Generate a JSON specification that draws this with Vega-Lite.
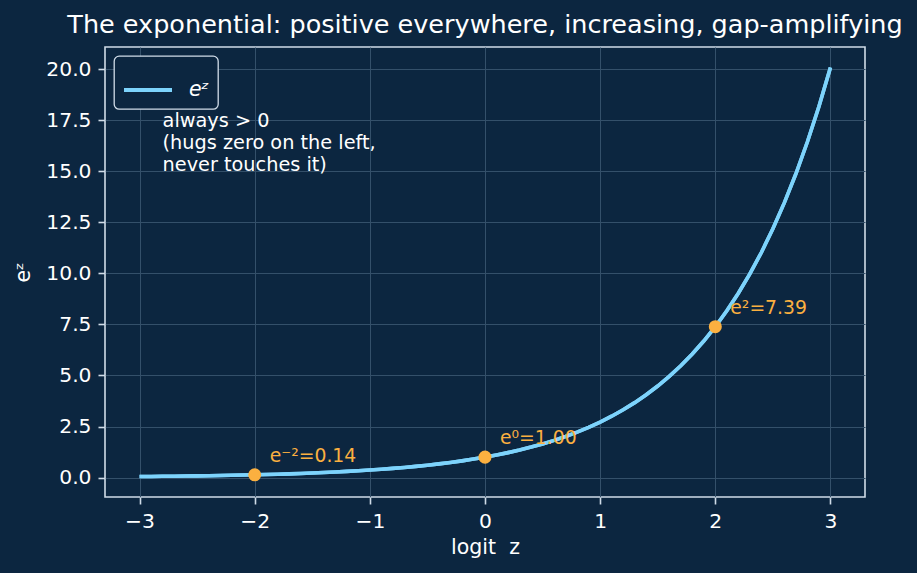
{
  "$schema": "https://vega.github.io/schema/vega-lite/v6.json",
  "width": 760,
  "height": 450,
  "autosize": "none",
  "padding": {"left": 105, "top": 47, "right": 52, "bottom": 76},
  "background": "#0c2640",
  "title": {"text": "The exponential: positive everywhere, increasing, gap-amplifying", "color": "#ffffff", "font": "DejaVu Sans", "fontSize": 25.5, "fontWeight": "normal", "anchor": "middle", "offset": 9},
  "config": {
    "view": {"stroke": "#d0dce8", "strokeWidth": 1.6, "fill": "#0c2640"},
    "axis": {"grid": true, "labelFont": "DejaVu Sans", "labelFontSize": 20.3, "labelColor": "#ffffff", "titleFont": "DejaVu Sans", "titleFontSize": 20.5, "titleFontWeight": "normal", "titleColor": "#ffffff", "domain": false, "tickColor": "#d0dce8", "tickSize": 7, "tickWidth": 1.6, "gridColor": "#34506a", "gridOpacity": 1, "gridWidth": 1, "labelPadding": 7},
    "legend": {"orient": "top-left", "offset": 9, "strokeColor": "#d0dce8", "strokeWidth": 1.3, "fillColor": "#0c2640", "cornerRadius": 5, "padding": 8, "labelFont": "DejaVu Sans", "labelFontSize": 20.5, "labelFontStyle": "italic", "labelColor": "#ffffff", "symbolType": "stroke", "symbolSize": 2304, "symbolStrokeWidth": 4, "labelOffset": 15}
  },
  "datasets": {
    "curve": [
      {"z": -3.0, "v": 0.0498}, {"z": -2.9, "v": 0.0550}, {"z": -2.8, "v": 0.0608}, {"z": -2.7, "v": 0.0672}, {"z": -2.6, "v": 0.0743},
      {"z": -2.5, "v": 0.0821}, {"z": -2.4, "v": 0.0907}, {"z": -2.3, "v": 0.1003}, {"z": -2.2, "v": 0.1108}, {"z": -2.1, "v": 0.1225},
      {"z": -2.0, "v": 0.1353}, {"z": -1.9, "v": 0.1496}, {"z": -1.8, "v": 0.1653}, {"z": -1.7, "v": 0.1827}, {"z": -1.6, "v": 0.2019},
      {"z": -1.5, "v": 0.2231}, {"z": -1.4, "v": 0.2466}, {"z": -1.3, "v": 0.2725}, {"z": -1.2, "v": 0.3012}, {"z": -1.1, "v": 0.3329},
      {"z": -1.0, "v": 0.3679}, {"z": -0.9, "v": 0.4066}, {"z": -0.8, "v": 0.4493}, {"z": -0.7, "v": 0.4966}, {"z": -0.6, "v": 0.5488},
      {"z": -0.5, "v": 0.6065}, {"z": -0.4, "v": 0.6703}, {"z": -0.3, "v": 0.7408}, {"z": -0.2, "v": 0.8187}, {"z": -0.1, "v": 0.9048},
      {"z": 0.0, "v": 1.0}, {"z": 0.1, "v": 1.1052}, {"z": 0.2, "v": 1.2214}, {"z": 0.3, "v": 1.3499}, {"z": 0.4, "v": 1.4918},
      {"z": 0.5, "v": 1.6487}, {"z": 0.6, "v": 1.8221}, {"z": 0.7, "v": 2.0138}, {"z": 0.8, "v": 2.2255}, {"z": 0.9, "v": 2.4596},
      {"z": 1.0, "v": 2.7183}, {"z": 1.1, "v": 3.0042}, {"z": 1.2, "v": 3.3201}, {"z": 1.3, "v": 3.6693}, {"z": 1.4, "v": 4.0552},
      {"z": 1.5, "v": 4.4817}, {"z": 1.6, "v": 4.9530}, {"z": 1.7, "v": 5.4739}, {"z": 1.8, "v": 6.0496}, {"z": 1.9, "v": 6.6859},
      {"z": 2.0, "v": 7.3891}, {"z": 2.1, "v": 8.1662}, {"z": 2.2, "v": 9.0250}, {"z": 2.3, "v": 9.9742}, {"z": 2.4, "v": 11.0232},
      {"z": 2.5, "v": 12.1825}, {"z": 2.6, "v": 13.4637}, {"z": 2.7, "v": 14.8797}, {"z": 2.8, "v": 16.4446}, {"z": 2.9, "v": 18.1741},
      {"z": 3.0, "v": 20.0855}
    ],
    "marks": [
      {"z": -2, "v": 0.1353, "label": "e⁻²=0.14"},
      {"z": 0, "v": 1.0, "label": "e⁰=1.00"},
      {"z": 2, "v": 7.3891, "label": "e²=7.39"}
    ],
    "note": [
      {"z": -2.8, "v": 17.9, "text": "always > 0\n(hugs zero on the left,\nnever touches it)"}
    ]
  },
  "layer": [
    {
      "data": {"name": "curve"},
      "mark": {"type": "line", "strokeWidth": 3.6, "clip": true},
      "encoding": {
        "x": {"field": "z", "type": "quantitative", "scale": {"domain": [-3.3, 3.3], "nice": false, "zero": false}, "axis": {"grid": true, "values": [-3, -2, -1, 0, 1, 2, 3], "title": "logit\u00a0\u00a0z", "titlePadding": 6, "format": "d"}},
        "y": {"field": "v", "type": "quantitative", "scale": {"domain": [-0.952, 21.087], "nice": false, "zero": false}, "axis": {"grid": true, "values": [0, 2.5, 5, 7.5, 10, 12.5, 15, 17.5, 20], "format": ".1f", "title": "eᶻ", "titlePadding": 12}},
        "color": {"datum": "eᶻ", "type": "nominal", "scale": {"range": ["#7dd3fc"]}, "legend": {"title": null}}
      }
    },
    {
      "mark": {"type": "rule", "color": "#c4cad8", "strokeWidth": 1.4, "opacity": 0.7},
      "encoding": {"y": {"datum": 0, "type": "quantitative"}}
    },
    {
      "mark": {"type": "rule", "color": "#c4cad8", "strokeWidth": 1.4, "opacity": 0.7},
      "encoding": {"x": {"datum": 0, "type": "quantitative"}}
    },
    {
      "data": {"name": "curve"},
      "mark": {"type": "line", "strokeWidth": 3.6, "clip": true, "color": "#7dd3fc"},
      "encoding": {"x": {"field": "z", "type": "quantitative"}, "y": {"field": "v", "type": "quantitative"}}
    },
    {
      "data": {"name": "marks"},
      "mark": {"type": "point", "filled": true, "size": 170, "color": "#fbb040", "opacity": 1},
      "encoding": {"x": {"field": "z", "type": "quantitative"}, "y": {"field": "v", "type": "quantitative"}}
    },
    {
      "data": {"name": "marks"},
      "mark": {"type": "text", "align": "left", "baseline": "middle", "dx": 15, "dy": -19, "font": "DejaVu Sans", "fontSize": 18.8, "color": "#fbb040"},
      "encoding": {"x": {"field": "z", "type": "quantitative"}, "y": {"field": "v", "type": "quantitative"}, "text": {"field": "label"}}
    },
    {
      "data": {"name": "note"},
      "mark": {"type": "text", "align": "left", "baseline": "top", "lineBreak": "\n", "lineHeight": 21.8, "font": "DejaVu Sans", "fontSize": 19.3, "color": "#ffffff"},
      "encoding": {"x": {"field": "z", "type": "quantitative"}, "y": {"field": "v", "type": "quantitative"}, "text": {"field": "text"}}
    }
  ]
}
